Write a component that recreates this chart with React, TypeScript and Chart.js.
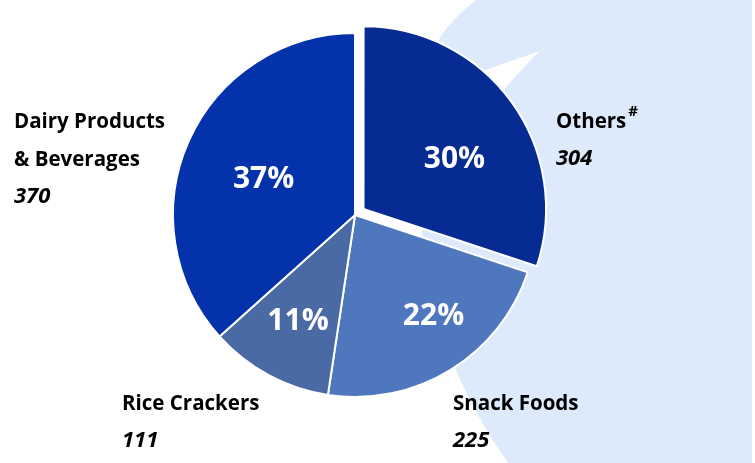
import React, { useEffect, useRef } from "react";
import { Chart, registerables } from "chart.js";

Chart.register(...registerables);

// ---- data ----
const categories = ["Others", "Snack Foods", "Rice Crackers", "Dairy Products & Beverages"];
const nameLines = [["Others"], ["Snack Foods"], ["Rice Crackers"], ["Dairy Products", "& Beverages"]];
const superscripts = ["#", "", "", ""];
const values = [304, 225, 111, 370];

// ---- style ----
const colors = ["#062B93", "#4E77BE", "#4A6AA6", "#0432AA"];
const offsets = [42, 0, 0, 0];
// in-slice % label: radial factor, angle tweak (deg)
const pctPlace = [
  [0.63, 6],
  [0.70, -6.5],
  [0.66, 0],
  [0.54, -2.5],
];
// outer label anchors relative to pie centre (left x, first baseline y)
const outerPlace = [
  [201, -87],
  [98, 195],
  [-233, 195],
  [-341, -87],
];
const LINE = 38;
const FONT = '"Open Sans", "Noto Sans", sans-serif';

const bgPlugin = {
  id: "bgShape",
  beforeDraw(chart: any) {
    const ctx = chart.ctx;
    ctx.save();
    ctx.fillStyle = "#DCEAFC";
    ctx.beginPath();
    ctx.moveTo(476, 0);
    ctx.quadraticCurveTo(455, 16, 440, 37);
    ctx.quadraticCurveTo(390, 200, 457, 373);
    ctx.quadraticCurveTo(478, 420, 508, 463);
    ctx.lineTo(752, 463);
    ctx.lineTo(752, 0);
    ctx.closePath();
    ctx.fill();
    // white wedge
    ctx.fillStyle = "#FFFFFF";
    ctx.beginPath();
    ctx.moveTo(540, 51);
    ctx.lineTo(485, 70);
    ctx.lineTo(430, 110);
    ctx.lineTo(470, 130);
    ctx.quadraticCurveTo(515, 75, 540, 51);
    ctx.closePath();
    ctx.fill();
    ctx.restore();
  },
};

const labelPlugin = {
  id: "labels",
  afterDatasetsDraw(chart: any) {
    const ctx = chart.ctx;
    const meta = chart.getDatasetMeta(0);
    const data = chart.data.datasets[0].data as number[];
    const total = data.reduce((a, b) => a + b, 0);
    ctx.save();
    meta.data.forEach((arc: any, i: number) => {
      const p = arc.getProps(["x", "y", "startAngle", "endAngle", "outerRadius"], true);
      const mid = (p.startAngle + p.endAngle) / 2 + (pctPlace[i][1] * Math.PI) / 180;
      const r = p.outerRadius * pctPlace[i][0];
      const tx = p.x + Math.cos(mid) * r;
      const ty = p.y + Math.sin(mid) * r;
      ctx.fillStyle = "#FFFFFF";
      ctx.font = `bold 30px ${FONT}`;
      ctx.textAlign = "center";
      ctx.textBaseline = "middle";
      ctx.fillText(Math.round((data[i] / total) * 100) + "%", tx, ty + 1);

      // outer labels
      const ox = p.x + outerPlace[i][0];
      let oy = p.y + outerPlace[i][1];
      ctx.fillStyle = "#000000";
      ctx.textAlign = "left";
      ctx.textBaseline = "alphabetic";
      nameLines[i].forEach((ln: string, k: number) => {
        ctx.font = `bold 20.5px ${FONT}`;
        ctx.fillText(ln, ox, oy);
        if (k === nameLines[i].length - 1 && superscripts[i]) {
          const w = ctx.measureText(ln).width;
          ctx.font = `bold 15px ${FONT}`;
          ctx.fillText(superscripts[i], ox + w + 2, oy - 12);
        }
        oy += LINE;
      });
      ctx.font = `italic bold 22px ${FONT}`;
      ctx.fillText(String(data[i]), ox, oy - 1);
    });
    ctx.restore();
  },
};

export default function App() {
  const ref = useRef<HTMLCanvasElement>(null);
  useEffect(() => {
    if (!ref.current) return;
    const chart = new Chart(ref.current, {
      type: "pie",
      data: {
        labels: categories,
        datasets: [
          {
            data: values,
            backgroundColor: colors,
            borderColor: "#FFFFFF",
            borderWidth: 2,
            offset: offsets,
            hoverOffset: 0,
          },
        ],
      },
      options: {
        responsive: false,
        animation: false,
        radius: 182,
        layout: { padding: { left: 0, right: 45, top: 0, bottom: 33 } },
        plugins: { legend: { display: false }, tooltip: { enabled: false } },
        events: [],
      } as any,
      plugins: [bgPlugin, labelPlugin],
    });
    return () => chart.destroy();
  }, []);
  return (
    <div style={{ position: "absolute", left: 0, top: 0, width: 755, height: 463, background: "#fff" }}>
      <canvas ref={ref} width={755} height={463} style={{ width: 755, height: 463 }} />
    </div>
  );
}
